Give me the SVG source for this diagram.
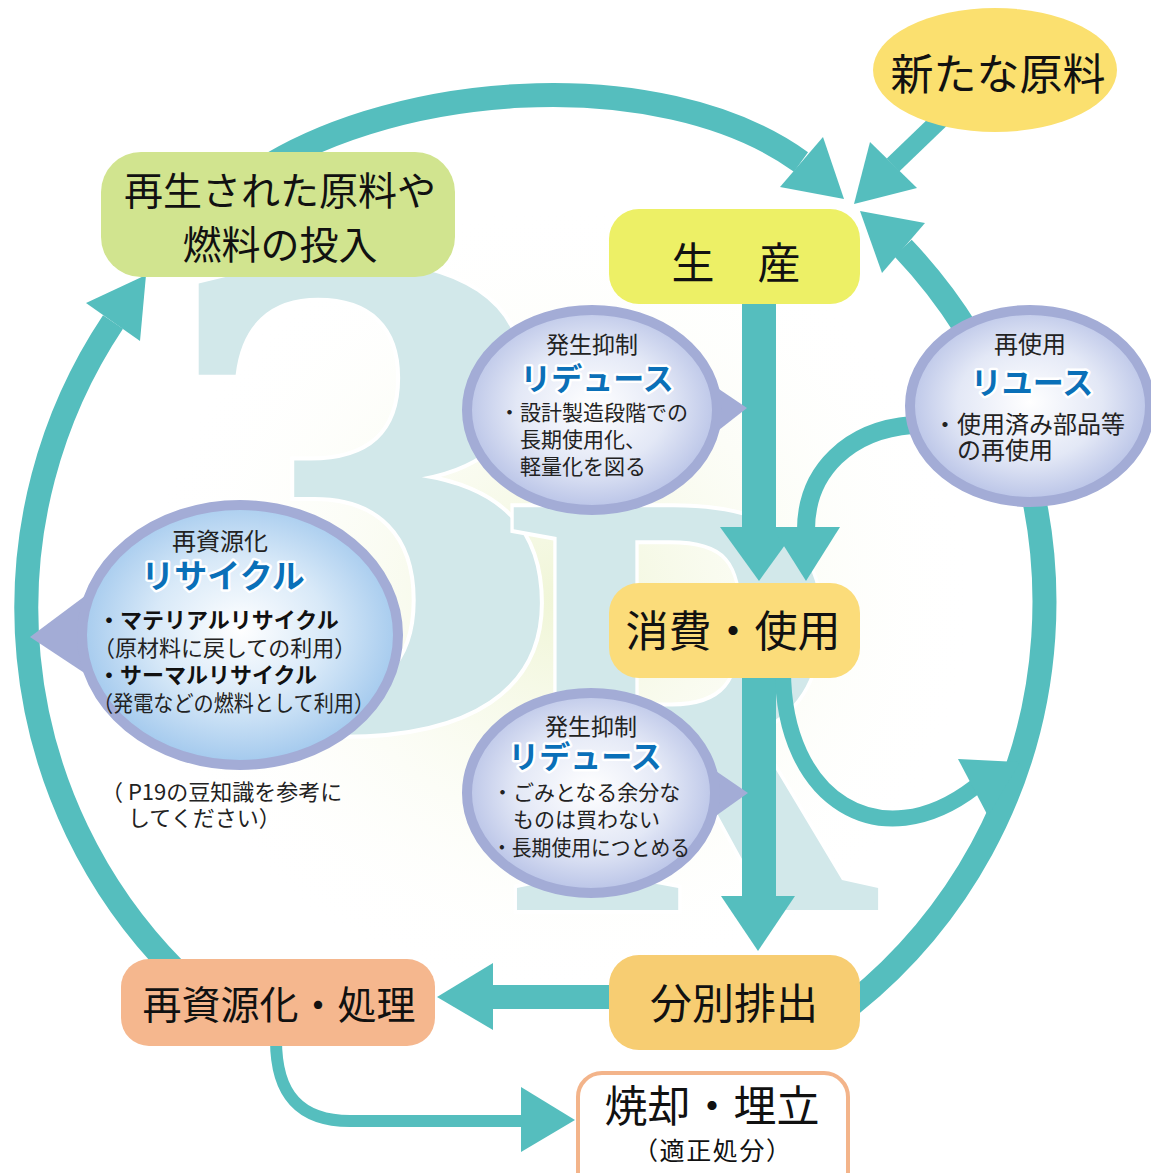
<svg xmlns="http://www.w3.org/2000/svg" width="1151" height="1173" viewBox="0 0 1151 1173">
<defs>
<radialGradient id="gBub" cx="0.5" cy="0.48" r="0.5">
<stop offset="0" stop-color="#ffffff"/>
<stop offset="0.6" stop-color="#e3e8f6"/>
<stop offset="1" stop-color="#bcc6e8"/>
</radialGradient>
<radialGradient id="gRec" cx="0.5" cy="0.48" r="0.5">
<stop offset="0" stop-color="#ffffff"/>
<stop offset="0.55" stop-color="#d8e9f8"/>
<stop offset="1" stop-color="#a6cbee"/>
</radialGradient>
<radialGradient id="gGlow" cx="0.5" cy="0.5" r="0.5">
<stop offset="0" stop-color="#eef4d2" stop-opacity="0.9"/>
<stop offset="1" stop-color="#ffffff" stop-opacity="0"/>
</radialGradient>
<style>
.cj{font-family:"Noto Sans CJK JP","Noto Sans CJK SC",sans-serif;}
.bx{font-size:43px;fill:#111;text-anchor:middle}
.teal{fill:#55bebe}
.ln{fill:none;stroke:#55bebe}
.bub{stroke:#a3acd6;stroke-width:10}
.ptr{fill:#a3acd6}
.ttl{font-size:23px;fill:#222;text-anchor:middle}
.kat{font-size:31px;font-weight:bold;fill:#0a70b8;stroke:#fff;stroke-width:5;paint-order:stroke;stroke-linejoin:round;text-anchor:middle}
.bl{font-size:21px;fill:#222}
.big{font-weight:bold;fill:#d2e8ea;stroke:#fff;stroke-width:8;paint-order:stroke}
</style>
</defs>
<g id="background">
<rect width="1151" height="1173" fill="#ffffff"/>
<ellipse cx="560" cy="600" rx="420" ry="400" fill="url(#gGlow)"/>
<text class="big" x="145" y="726" style="font-family:'DejaVu Serif',serif;font-size:625px">3</text>
<text class="big" transform="translate(505,910) scale(0.83,1)" style="font-family:'Liberation Serif',serif;font-size:615px">R</text>
</g>
<g id="connectors">
<path class="ln" stroke-width="24" d="M 240 185 C 380 80, 660 60, 801 162"/>
<polygon class="teal" points="844,199 780,187 823,137"/>
<path class="ln" stroke-width="18" d="M 945 115 L 893 165"/>
<polygon class="teal" points="854,204 870,142 917,188"/>
<path class="ln" stroke-width="24" d="M 852 1004 A 515 515 0 0 0 903 248"/>
<polygon class="teal" points="860,211 925,223 882,273"/>
<path class="ln" stroke-width="24" d="M 175 970 A 515 515 0 0 1 113 322"/>
<polygon class="teal" points="146,275 86,303 140,341"/>
<rect class="teal" x="742" y="300" width="34" height="230"/>
<polygon class="teal" points="720,527 798,527 759,581"/>
<path class="ln" stroke-width="18" d="M 912 425 C 850 430, 806 470, 806 530"/>
<polygon class="teal" points="772,527 840,527 806,581"/>
<rect class="teal" x="742" y="670" width="34" height="230"/>
<polygon class="teal" points="721,896 795,896 758,951"/>
<path class="ln" stroke-width="16" d="M 783 670 C 783 800, 880 860, 975 787"/>
<polygon class="teal" points="1020,762 958,759 988,816"/>
<rect class="teal" x="490" y="985" width="125" height="24"/>
<polygon class="teal" points="493,963 493,1030 437,997"/>
<path class="ln" stroke-width="12" d="M 276 1040 C 276 1095, 300 1121, 350 1121 L 524 1121"/>
<polygon class="teal" points="521,1087 521,1152 575,1120"/>
</g>
<g id="node-recycled-input">
<rect x="101" y="152" width="354" height="125" rx="40" fill="#d1e48f"/>
<text class="cj bx" x="280" y="205" style="font-size:39px">再生された原料や</text>
<text class="cj bx" x="280" y="259" style="font-size:39px">燃料の投入</text>
</g>
<g id="node-new-material">
<ellipse cx="995" cy="70" rx="122" ry="62" fill="#fbe06f"/>
<text class="cj bx" x="998" y="90">新たな原料</text>
</g>
<g id="node-production">
<rect x="609" y="209" width="251" height="95" rx="30" fill="#edf066"/>
<text class="cj bx" x="736" y="279">生　産</text>
</g>
<g id="node-consumption">
<rect x="609" y="583" width="251" height="95" rx="30" fill="#fbdc7a"/>
<text class="cj bx" x="733" y="647">消費・使用</text>
</g>
<g id="node-sorting">
<rect x="609" y="955" width="251" height="95" rx="30" fill="#f7cd72"/>
<text class="cj bx" x="734" y="1019" style="font-size:42px">分別排出</text>
</g>
<g id="node-recycling">
<rect x="121" y="959" width="314" height="87" rx="28" fill="#f5b78e"/>
<text class="cj bx" x="279" y="1019" style="font-size:39px">再資源化・処理</text>
</g>
<g id="node-incineration">
<rect x="578" y="1073" width="270" height="130" rx="24" fill="#ffffff" stroke="#f3b48a" stroke-width="4"/>
<text class="cj bx" x="712" y="1122">焼却・埋立</text>
<text class="cj bx" x="712" y="1160" style="font-size:25px" textLength="158" lengthAdjust="spacing">（適正処分）</text>
</g>
<g id="bubble-reduce-1">
<polygon class="ptr" points="710,383 747,408 710,437"/>
<ellipse class="bub" cx="592" cy="410" rx="125" ry="100" fill="url(#gBub)"/>
<text class="cj ttl" x="592" y="353">発生抑制</text>
<text class="cj kat" x="597" y="390">リデュース</text>
<text class="cj bl" x="499" y="420">・設計製造段階での</text>
<text class="cj bl" x="520" y="447">長期使用化、</text>
<text class="cj bl" x="520" y="474">軽量化を図る</text>
</g>
<g id="bubble-reuse">
<ellipse class="bub" cx="1030" cy="406" rx="120" ry="96" fill="url(#gBub)"/>
<text class="cj ttl" x="1030" y="353" style="font-size:24px">再使用</text>
<text class="cj kat" x="1032" y="394">リユース</text>
<text class="cj bl" x="933" y="433" style="font-size:24px">・使用済み部品等</text>
<text class="cj bl" x="957" y="459" style="font-size:24px">の再使用</text>
</g>
<g id="bubble-recycle">
<polygon class="ptr" points="85,596 30,637 92,678"/>
<ellipse class="bub" cx="240" cy="635" rx="158" ry="130" fill="url(#gRec)"/>
<text class="cj ttl" x="220" y="550" style="font-size:24px">再資源化</text>
<text class="cj kat" x="223" y="588" style="font-size:33px">リサイクル</text>
<text class="cj bl" x="98" y="628" style="font-size:22px;font-weight:bold;fill:#111">・マテリアルリサイクル</text>
<text class="cj bl" x="93" y="656" style="font-size:22px">（原材料に戻しての利用）</text>
<text class="cj bl" x="98" y="683" style="font-size:22px;font-weight:bold;fill:#111">・サーマルリサイクル</text>
<text class="cj bl" x="93" y="711" style="font-size:22px" textLength="281" lengthAdjust="spacingAndGlyphs">（発電などの燃料として利用）</text>
</g>
<g id="note">
<text class="cj bl" x="101" y="800" style="font-size:22px">（ P19の豆知識を参考に</text>
<text class="cj bl" x="128" y="826" style="font-size:22px">してください）</text>
</g>
<g id="bubble-reduce-2">
<polygon class="ptr" points="710,767 748,793 710,820"/>
<ellipse class="bub" cx="591" cy="793" rx="124" ry="100" fill="url(#gBub)"/>
<text class="cj ttl" x="591" y="735">発生抑制</text>
<text class="cj kat" x="585" y="768">リデュース</text>
<text class="cj bl" x="492" y="800">・ごみとなる余分な</text>
<text class="cj bl" x="513" y="827">ものは買わない</text>
<text class="cj bl" x="492" y="855" textLength="198" lengthAdjust="spacingAndGlyphs">・長期使用につとめる</text>
</g>
</svg>
